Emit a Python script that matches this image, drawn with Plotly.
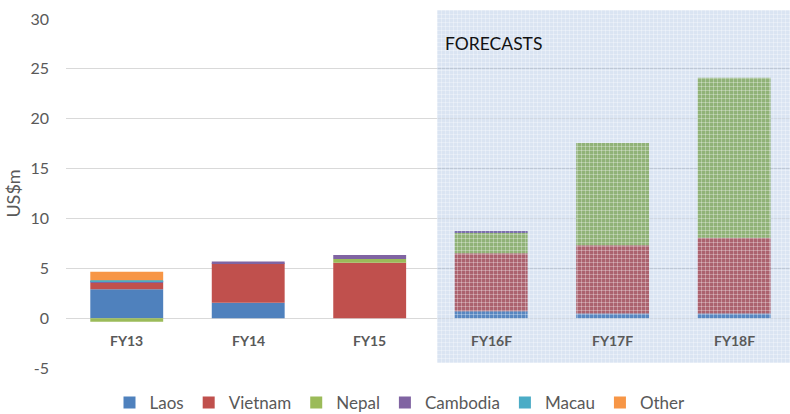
import base64
import plotly.graph_objects as go

categories = ["FY13", "FY14", "FY15", "FY16F", "FY17F", "FY18F"]
laos = [2.9, 1.55, 0.0, 0.7, 0.47, 0.47]
vietnam = [0.65, 3.95, 5.55, 5.8, 6.85, 7.6]
nepal = [-0.35, 0.0, 0.37, 2.1, 10.25, 16.05]
cambodia = [0.15, 0.17, 0.4, 0.1, 0.0, 0.0]
macau = [0.1, 0.0, 0.0, 0.0, 0.0, 0.0]
other = [0.85, 0.0, 0.0, 0.0, 0.0, 0.0]
y_tickvals = [-5, 0, 5, 10, 15, 20, 25, 30]
y_ticktext = ["-5", "0", "5", "10", "15", "20", "25", "30"]

series = [
    ("Laos", laos, "#4F81BD"),
    ("Vietnam", vietnam, "#C0504D"),
    ("Nepal", nepal, "#9BBB59"),
    ("Cambodia", cambodia, "#8064A2"),
    ("Macau", macau, "#4BACC6"),
    ("Other", other, "#F79646"),
]

FONT = "Lato"
GREY = "#595959"

fig = go.Figure()
for name, vals, col in series:
    fig.add_trace(go.Bar(x=categories, y=vals, name=name,
                         marker=dict(color=col, line=dict(width=0))))

# geometry (pixels) of the figure
TOP, BOTTOM = 19, 368          # plot area rows
plot_w = 790 - 66
plot_h = BOTTOM - TOP


def py(pix):  # pixel row -> paper y
    return (BOTTOM - pix) / plot_h


def px(pix):  # pixel column -> paper x
    return (pix - 66) / plot_w


# forecast shading overlay (pattern-like grid) as an svg image
W, H = 360, 353
svg = f'''<svg xmlns="http://www.w3.org/2000/svg" width="{W}" height="{H}">
<defs><pattern id="p" width="4" height="4" patternUnits="userSpaceOnUse">
<rect width="4" height="4" fill="rgb(110,150,205)" fill-opacity="0.26"/>
<rect width="4" height="1" fill="white" fill-opacity="0.3"/>
<rect width="1" height="4" fill="white" fill-opacity="0.3"/>
</pattern></defs>
<rect width="{W}" height="{H}" fill="url(#p)"/></svg>'''
src = "data:image/svg+xml;base64," + base64.b64encode(svg.encode()).decode()

fig.add_layout_image(dict(source=src, xref="paper", yref="paper",
                          x=px(437), y=py(10),
                          sizex=W / plot_w, sizey=H / plot_h,
                          xanchor="left", yanchor="top", sizing="stretch",
                          layer="above", opacity=1))

fig.add_annotation(text="FORECASTS", xref="paper", yref="paper",
                   x=px(443), y=py(44),
                   xanchor="left", yanchor="middle", showarrow=False,
                   font=dict(family=FONT, size=17.5, color="#111111"))

# category labels (drawn above the shading)
for c in categories:
    fig.add_annotation(text=f"<b>{c}</b>", x=c, y=0, xref="x", yref="y",
                       yshift=-22, showarrow=False, yanchor="middle",
                       font=dict(family=FONT, size=14, color=GREY))

fig.update_layout(
    width=790, height=414,
    margin=dict(l=66, r=0, t=TOP, b=414 - BOTTOM, autoexpand=False),
    paper_bgcolor="white", plot_bgcolor="white",
    barmode="relative", bargap=0.4,
    font=dict(family=FONT, color=GREY),
    legend=dict(orientation="h", x=px(400), xanchor="center",
                y=py(403), yanchor="middle", borderwidth=0,
                font=dict(family=FONT, size=17, color=GREY),
                traceorder="normal"),
    xaxis=dict(type="category", range=[-0.5, 5.46], showgrid=False,
               showline=False, zeroline=False, ticks="",
               showticklabels=False),
    yaxis=dict(range=[-5, 30], tickvals=y_tickvals, ticktext=y_ticktext,
               showgrid=True, gridcolor="#d9d9d9",
               gridwidth=1, zeroline=True, zerolinecolor="#d9d9d9",
               zerolinewidth=1, showline=False, ticks="",
               ticklabelstandoff=16,
               tickfont=dict(family=FONT, size=16, color=GREY),
               title=dict(text="US$m", standoff=5,
                          font=dict(family=FONT, size=18, color=GREY))),
)

fig.write_html("out.html")
